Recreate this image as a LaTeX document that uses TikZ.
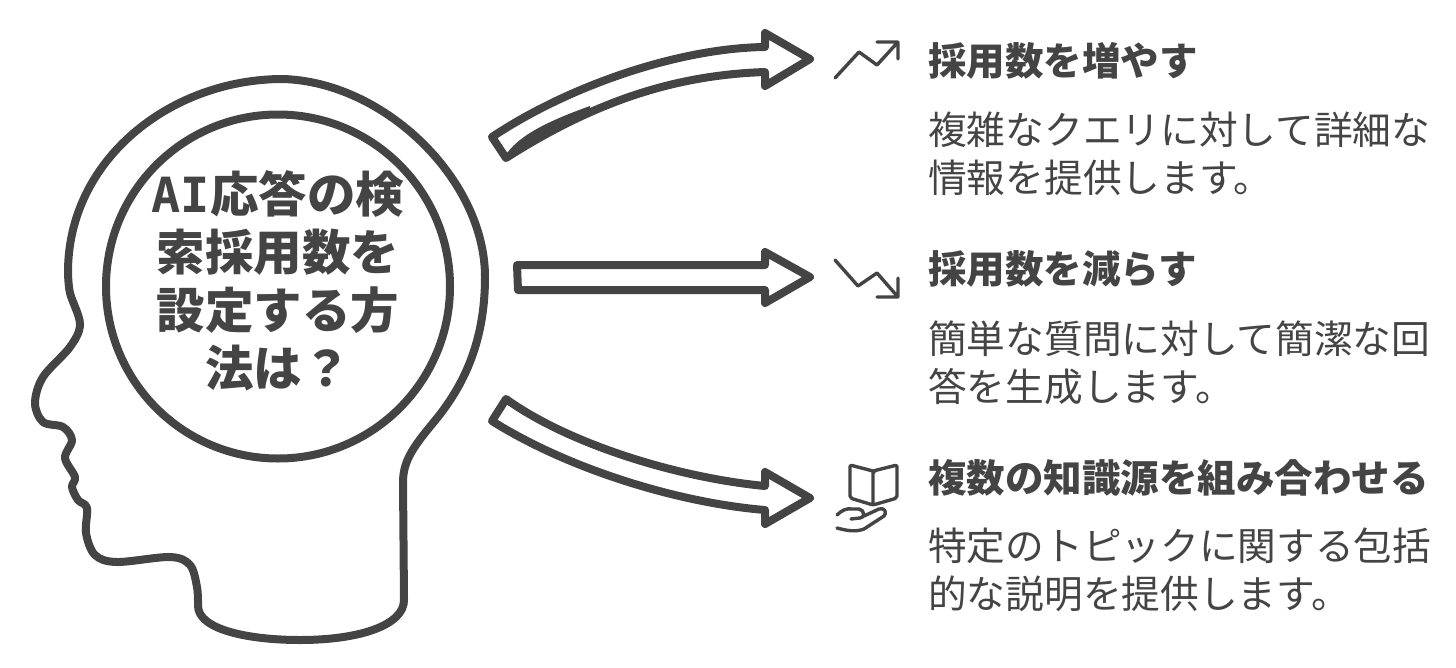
\documentclass[tikz,border=0pt]{standalone}
\usepackage{fontspec}
\setmainfont{Noto Sans CJK JP}
\newfontfamily\latinbold{DejaVu Sans Mono}
\usetikzlibrary{shapes.geometric}
\definecolor{ink}{HTML}{444444}
\tikzset{
  headline/.style={draw=ink,line width=8pt,line join=round},
  blockarrow/.style={draw=ink,line width=8pt,line join=round},
  iconline/.style={draw=ink,line width=3.4pt,line cap=round,line join=round},
  title/.style={anchor=west,inner sep=0pt,text=ink,font=\fontsize{38.5}{48}\selectfont\bfseries},
  descr/.style={anchor=west,inner sep=0pt,text=ink,align=left,font=\fontsize{38.7}{48}\selectfont},
}

\begin{document}
\begin{tikzpicture}[x=1pt,y=-1pt]
\useasboundingbox (0,0) rectangle (1456,667);

% head
\draw[headline] (283,79) .. controls (385,82) and (485,180) .. (485,277)
  .. controls (485,340) and (465,385) .. (433,423)
  .. controls (415,445) and (403,460) .. (403,482)
  -- (404,600) .. controls (404,625) and (360,640) .. (300,640)
  .. controls (250,640) and (197,630) .. (198,605)
  -- plot[smooth,tension=0.55] coordinates {
  (198,605) (197,587) (190,565) (170,557) (117,562) (95,555)
  (86,533) (87,508) (78,500) (72,487) (75,477) (65,458) (72,440) (63,427) (43,422)
  (35,403) (43,377) (70,347) (80,324) (70,293) (68,272)}
  .. controls (68,160) and (170,79) .. (283,79) -- cycle;

\node[circle,draw=ink,line width=8pt,minimum width=344pt,inner sep=0pt] (brain) at (278,286.5) {};
\node[inner sep=0pt,text=ink,align=center,font=\fontsize{48.5}{58}\selectfont\bfseries] (question) at (278,281)
  {{\latinbold AI}応答の検\\索採用数を\\設定する方\\法は？};

% arrows
\draw[blockarrow] (492,137) .. controls (570,85) and (680,48) .. (765,47) -- (765,33) -- (810,59)
  -- (765,86) -- (765,72) .. controls (680,75) and (600,98) .. (506,158) -- cycle;
\fill[ink] (508,152) .. controls (520,136) and (545,122) .. (590,106) -- (590,114) .. controls (560,125) and (535,140) .. (508,158) -- cycle;
\draw[blockarrow] (517,265) -- (765,265) -- (765,252) -- (810,277) -- (765,303) -- (765,290) -- (518,290) -- cycle;
\draw[blockarrow] (506,399) .. controls (570,445) and (680,478) .. (765,486) -- (765,472) -- (810,498)
  -- (765,524) -- (765,510) .. controls (680,503) and (570,470) .. (492,421) -- cycle;

% icons
\draw[iconline] (835,78) -- (859,52) -- (877,65) -- (898,42) (877,42) -- (898,42) -- (898,59);
\draw[iconline] (835,260) -- (858,286) -- (877,273) -- (898,297) (877,297) -- (898,297) -- (898,278);
\draw[iconline,rounded corners=2pt] (873,471) -- (850,465) -- (850,498) -- (873,505) -- (897,498) -- (897,465) -- (873,471) -- (873,505);
\draw[iconline] (837,515) .. controls (842,510) and (847,508) .. (852,509) -- (859,509)
  .. controls (865,510) and (865,518) .. (860,518) -- (851,519)
  (864,516) -- (879,509) .. controls (885,507) and (887,513) .. (884,516)
  -- (864,529) .. controls (856,532) and (848,531) .. (837,528);

\node[title] (up) at (928,61) {採用数を増やす};
\node[descr] (uptext) at (928,154) {複雑なクエリに対して詳細な\\情報を提供します。};
\node[title] (down) at (928,269) {採用数を減らす};
\node[descr] (downtext) at (928,363) {簡単な質問に対して簡潔な回\\答を生成します。};
\node[title] (mix) at (928,478) {複数の知識源を組み合わせる};
\node[descr] (mixtext) at (928,570) {特定のトピックに関する包括\\的な説明を提供します。};

\end{tikzpicture}
\end{document}
